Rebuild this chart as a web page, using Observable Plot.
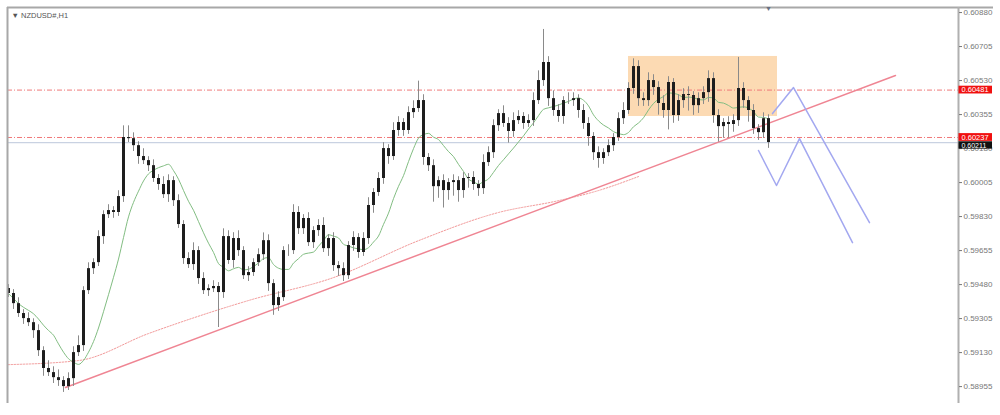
<!DOCTYPE html>
<html><head><meta charset="utf-8">
<script src="https://cdn.jsdelivr.net/npm/d3@7"></script>
<script src="https://cdn.jsdelivr.net/npm/@observablehq/plot@0.6"></script>
<style>body{margin:0;background:#fff;overflow:hidden}</style>
</head><body><div id="chart"></div>
<script>
const symbolTitle = "▼ NZDUSD#,H1";
const firstOpen = 0.59460;
const closes = [
0.59434,0.59382,0.59331,0.59305,0.59284,0.59243,0.59140,0.59048,0.59027,0.59001,
0.58986,0.58955,0.58996,0.59130,0.59166,0.59449,0.59562,0.59593,0.59727,0.59840,
0.59861,0.59851,0.59933,0.60237,0.60231,0.60195,0.60139,0.60118,0.60092,0.60026,
0.59995,0.59943,0.60015,0.59912,0.59789,0.59614,0.59583,0.59655,0.59511,0.59449,
0.59459,0.59470,0.59439,0.59727,0.59604,0.59717,0.59655,0.59526,0.59542,0.59593,
0.59634,0.59706,0.59485,0.59372,0.59413,0.59655,0.59655,0.59851,0.59768,0.59820,
0.59696,0.59758,0.59784,0.59665,0.59717,0.59578,0.59562,0.59526,0.59681,0.59722,
0.59645,0.59717,0.59887,0.59954,0.60026,0.60180,0.60139,0.60273,0.60314,0.60273,
0.60365,0.60386,0.60427,0.60134,0.60092,0.59984,0.60015,0.59964,0.60005,0.60015,
0.59964,0.60026,0.60031,0.59995,0.59974,0.60108,0.60159,0.60298,0.60360,0.60309,
0.60268,0.60324,0.60345,0.60309,0.60324,0.60427,0.60530,0.60623,0.60437,0.60376,
0.60345,0.60427,0.60427,0.60437,0.60376,0.60309,0.60242,0.60159,0.60129,0.60159,
0.60195,0.60237,0.60334,0.60376,0.60489,0.60602,0.60437,0.60427,0.60530,0.60494,
0.60412,0.60376,0.60520,0.60350,0.60427,0.60458,0.60453,0.60401,0.60437,0.60468,
0.60540,0.60350,0.60293,0.60314,0.60304,0.60324,0.60489,0.60427,0.60376,0.60283,
0.60262,0.60334,0.60211];
// wick lengths beyond the body, in pips
const upperWick = [
2,2,3,2,3,2,3,2,4,3, 4,2,3,3,5,2,3,2,3,2, 3,2,3,6,6,3,2,4,2,3, 2,4,3,2,3,2,3,4,2,3,
2,3,2,4,3,3,4,2,3,2, 3,4,3,2,3,2,3,4,3,2, 3,2,3,4,2,3,2,3,2,3, 2,3,4,2,3,3,2,4,3,2,
3,4,10,3,2,3,2,3,2,3, 2,3,2,3,2,4,3,3,2,4, 3,4,3,2,3,4,5,17,3,4, 3,2,4,3,2,3,3,2,3,2,
3,2,3,4,3,4,3,3,4,3, 3,4,3,2,3,3,4,2,3,3, 4,3,3,2,3,3,16,3,2,3, 2,3,2];
const lowerWick = [
2,3,2,3,2,4,3,4,2,3, 3,3,2,4,2,3,2,3,2,4, 2,3,2,3,2,3,4,2,3,2, 3,2,4,3,2,3,2,3,3,2,
3,2,18,3,2,4,3,2,3,2, 2,3,4,5,3,2,3,2,3,3, 2,3,3,2,4,3,4,3,2,3, 3,2,3,4,2,3,4,2,3,3,
2,3,2,4,3,8,6,9,5,7, 6,4,5,3,4,3,2,3,3,2, 6,3,2,3,2,3,2,3,4,3, 3,4,2,3,4,3,5,4,5,3,
2,3,2,3,2,3,4,3,3,4, 6,4,10,4,3,4,8,5,4,3, 5,4,8,6,7,4,3,4,6,3, 4,3,3];

const yTicks = [0.60880,0.60705,0.60530,0.60355,0.60180,0.60005,0.59830,0.59655,0.59480,0.59305,0.59130,0.58955];
const levelPrices = [0.60481, 0.60237];
const lastPrice = 0.60211;
const trendIdx = [11.4, 177.4];
const trendVal = [0.58950, 0.60556];
const slowMaIdx = [0, 14, 28, 48, 65, 82, 98, 110, 118, 126];
const slowMaVal = [0.59068, 0.59089, 0.59228, 0.59398, 0.59516, 0.59706, 0.59851, 0.59912, 0.59964, 0.60036];
const boxIdx = [124, 153.8];
const boxVal = [0.60345, 0.60654];
const pathAIdx = [152.8, 157, 172.2];
const pathAVal = [0.60360, 0.60494, 0.59799];
const pathBIdx = [150, 153.6, 158.2, 168.8];
const pathBVal = [0.60170, 0.59990, 0.60231, 0.59696];
const fastMaPeriod = 10;

const pip = 0.0001;
const candles = closes.map((c, i) => {
  const o = i ? closes[i - 1] : firstOpen;
  return {i, open: o, close: c, high: Math.max(o, c) + upperWick[i] * pip, low: Math.min(o, c) - lowerWick[i] * pip};
});
const yMin = 0.58868, yMax = 0.60906;
const xMin = -0.2, xMax = 190, xLabelEnd = 197;
const toPts = (xs, ys) => xs.map((x, k) => ({x, y: ys[k]}));

const chart = Plot.plot({
  width: 1000, height: 415,
  marginLeft: 7, marginRight: 42, marginTop: 7, marginBottom: 12,
  style: {fontFamily: "'Liberation Sans', Arial, sans-serif", background: "#fff"},
  x: {type: "linear", domain: [xMin, xMax], axis: null},
  y: {domain: [yMin, yMax], axis: null},
  marks: [
    Plot.rect([0], {x1: boxIdx[0], x2: boxIdx[1], y1: boxVal[0], y2: boxVal[1], fill: "#fcd3a6", fillOpacity: 0.85}),
    Plot.ruleY(levelPrices, {x1: xMin, x2: xMax, stroke: "#f07a7a", strokeWidth: 1, strokeDasharray: "5,2,1,2"}),
    Plot.ruleY([lastPrice], {x1: xMin, x2: xMax, stroke: "#c9d2e2", strokeWidth: 1.2}),
    Plot.line(toPts(slowMaIdx, slowMaVal), {x: "x", y: "y", stroke: "#f29a9a", strokeWidth: 1, strokeDasharray: "1.5,1.5", curve: "monotone-x"}),
    Plot.line(toPts(trendIdx, trendVal), {x: "x", y: "y", stroke: "#ef8593", strokeWidth: 1.5}),
    Plot.lineY(candles, Plot.windowY({k: fastMaPeriod, anchor: "end"}, {x: "i", y: "close", stroke: "#82bd82", strokeWidth: 1, curve: "monotone-x"})),
    Plot.ruleX(candles, {x: "i", y1: "low", y2: "high", stroke: "#8a8a8a", strokeWidth: 1}),
    Plot.ruleX(candles, {x: "i", y1: "open", y2: "close", stroke: "#1e1e1e", strokeWidth: 3}),
    Plot.line(toPts(pathAIdx, pathAVal), {x: "x", y: "y", stroke: "#a3a8f0", strokeWidth: 1.5}),
    Plot.line(toPts(pathBIdx, pathBVal), {x: "x", y: "y", stroke: "#a3a8f0", strokeWidth: 1.5}),
    // frame
    Plot.ruleX([xMin], {stroke: "#a8a8a8", strokeWidth: 2}),
    Plot.ruleY([yMax], {x1: xMin, x2: xLabelEnd, stroke: "#a8a8a8", strokeWidth: 2}),
    Plot.ruleX([xMax], {stroke: "#b0b0b0", strokeWidth: 2}),
    Plot.axisY(yTicks, {anchor: "right", tickSize: 3, tickPadding: 2, tickFormat: d => d.toFixed(5), fontSize: 8, color: "#777"}),
    // price labels
    Plot.rect([lastPrice], {x1: xMax + 0.1, x2: xLabelEnd - 0.2, y1: d => d - 0.00034, y2: d => d + 0.00004, fill: "#111"}),
    Plot.text([lastPrice], {x: xMax + 0.6, y: d => d - 0.00015, text: d => d.toFixed(5), textAnchor: "start", fill: "#fff", fontSize: 7}),
    Plot.rect(levelPrices, {x1: xMax + 0.1, x2: xLabelEnd - 0.2, y1: d => d - 0.0002, y2: d => d + 0.0002, fill: "#f01010"}),
    Plot.text(levelPrices, {x: xMax + 0.6, y: d => d, text: d => d.toFixed(5), textAnchor: "start", fill: "#fff", fontSize: 7.5}),
    // title and shift marker
    Plot.text([symbolTitle], {frameAnchor: "top-left", dx: 4, dy: 5, fontSize: 7.5, fill: "#555", textAnchor: "start"}),
    Plot.text(["▼"], {x: 152, frameAnchor: "top", dy: -1, fontSize: 7, fill: "#6a7080"})
  ]
});
document.getElementById("chart").appendChild(chart);
</script>
</body></html>
